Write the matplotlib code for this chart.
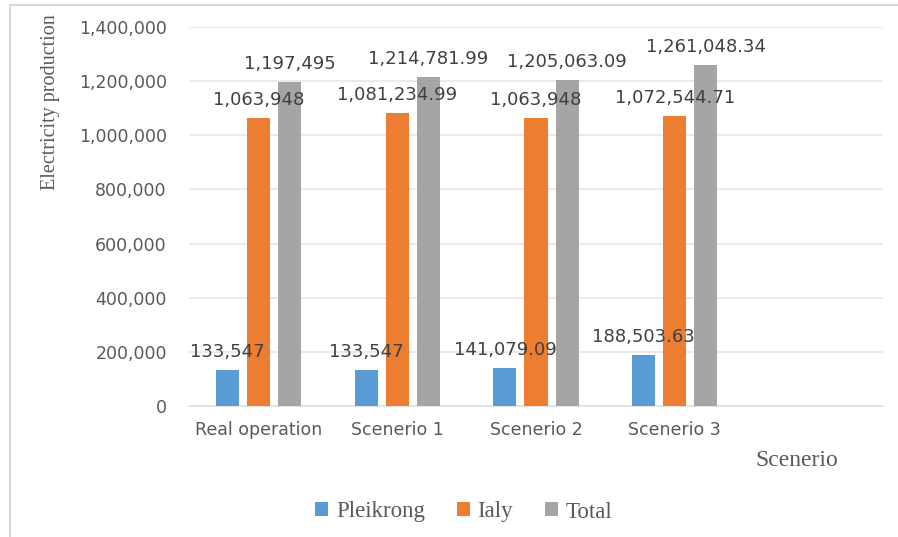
import matplotlib
matplotlib.use("Agg")
import matplotlib.pyplot as plt
from matplotlib.patches import Rectangle

categories = ["Real operation", "Scenerio 1", "Scenerio 2", "Scenerio 3", ""]
pleikrong = [133547, 133547, 141079.09, 188503.63]
ialy = [1063948, 1081234.99, 1063948, 1072544.71]
total = [1197495, 1214781.99, 1205063.09, 1261048.34]
pleikrong_lbl = ["133,547", "133,547", "141,079.09", "188,503.63"]
ialy_lbl = ["1,063,948", "1,081,234.99", "1,063,948", "1,072,544.71"]
total_lbl = ["1,197,495", "1,214,781.99", "1,205,063.09", "1,261,048.34"]
series_names = ["Pleikrong", "Ialy", "Total"]
colors = ["#5B9BD5", "#ED7D31", "#A5A5A5"]
yticks = list(range(0, 1400001, 200000))

W, H = 898, 537
fig = plt.figure(figsize=(W/100, H/100), dpi=100)
# outer border
fig.patches.append(Rectangle((10/W, -0.02), 1.1, 1 - 5/H + 0.02, transform=fig.transFigure,
                             fill=False, edgecolor="#D0D0D0", linewidth=1.2))

ax = fig.add_axes([189/W, 1 - 406/H, (883-189)/W, (406-27)/H])
bw = 0.166
off = 0.224
txt = "#404040"
xs = range(4)
for i, (vals, lbls, c) in enumerate(zip([pleikrong, ialy, total],
                                        [pleikrong_lbl, ialy_lbl, total_lbl], colors)):
    pos = [x + (i - 1) * off for x in xs]
    ax.bar(pos, vals, width=bw, color=c, label=series_names[i], zorder=3)
    for p, v, l in zip(pos, vals, lbls):
        ax.annotate(l, (p, v), xytext=(0, 18), textcoords="offset pixels",
                    ha="center", va="center", fontsize=13, color=txt,
                    family="DejaVu Sans", zorder=4)

ax.set_xlim(-0.5, 4.5)
ax.set_ylim(0, 1400000)
ax.set_yticks(yticks)
ax.set_yticklabels([f"{v:,}" for v in yticks])
ax.set_xticks(range(5))
ax.set_xticklabels(categories)
ax.tick_params(axis="both", length=0, labelsize=12.5, labelcolor="#595959")
ax.tick_params(axis="y", pad=16)
ax.tick_params(axis="x", pad=11)
ax.grid(axis="y", color="#E6E6E6", linewidth=1.2, zorder=0)
for s in ["top", "right", "left"]:
    ax.spines[s].set_visible(False)
ax.spines["bottom"].set_color("#E0E0E0")
ax.spines["bottom"].set_linewidth(1.2)

fig.text(51/W, 1 - 102/H, "Electricity production", rotation=90, ha="center", va="center",
         family="Liberation Serif", fontsize=14.5, color="#595959")
fig.text(797/W, 1 - 461/H, "Scenerio", ha="center", va="center",
         family="Liberation Serif", fontsize=17, color="#595959")

leg = fig.legend(loc="center", bbox_to_anchor=(464/W, 1 - 512/H), ncol=3, frameon=False,
                 prop={"family": "Liberation Serif", "size": 16.5}, handlelength=0.55,
                 handleheight=0.55, handletextpad=0.35, columnspacing=1.4)
for t in leg.get_texts():
    t.set_color("#595959")

fig.savefig("out.png", dpi=100)
